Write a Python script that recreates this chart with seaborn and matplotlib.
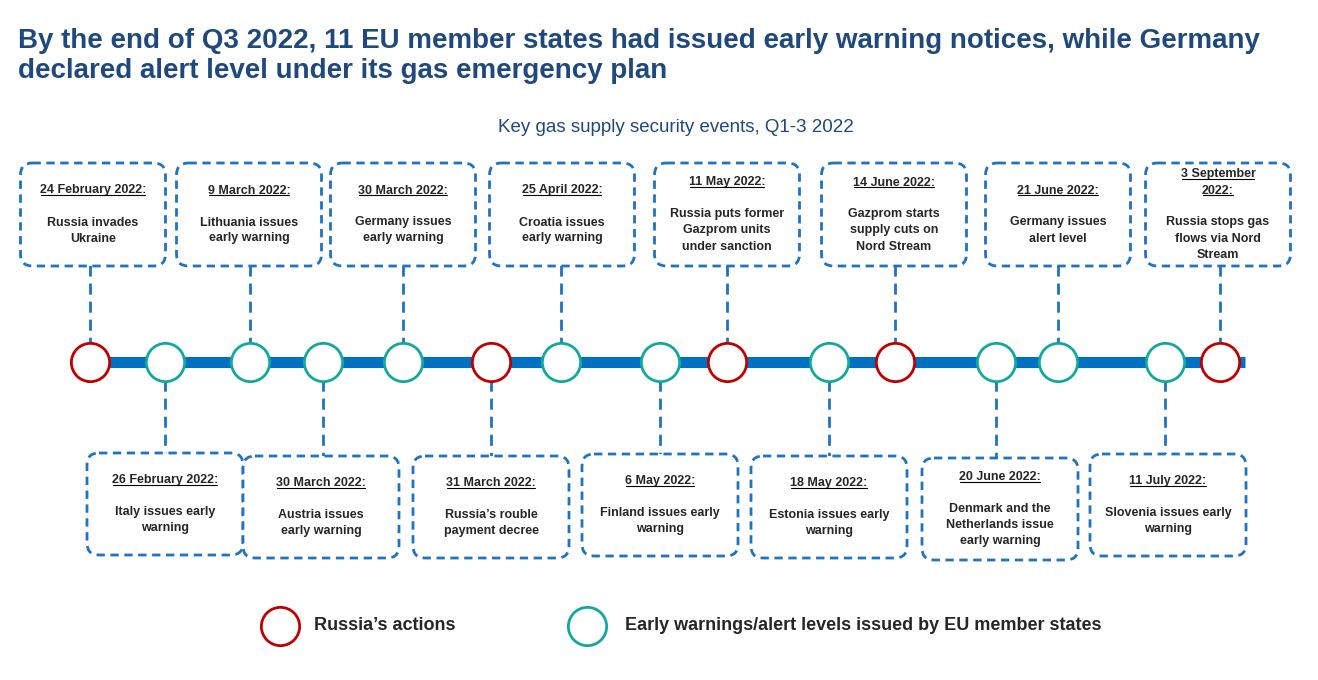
import matplotlib
matplotlib.use("Agg")
import matplotlib.pyplot as plt
import seaborn as sns
from matplotlib.patches import FancyBboxPatch

sns.set_theme(style="white")
plt.rcParams['font.family'] = ['Liberation Sans', 'DejaVu Sans']

# ---- data ----
top_dates = ["24 February 2022:", "9 March 2022:", "30 March 2022:", "25 April 2022:",
             "11 May 2022:", "14 June 2022:", "21 June 2022:", "3 September\n2022:"]
top_texts = ["Russia invades\nUkraine", "Lithuania issues\nearly warning", "Germany issues\nearly warning",
             "Croatia issues\nearly warning", "Russia puts former\nGazprom units\nunder sanction",
             "Gazprom starts\nsupply cuts on\nNord Stream", "Germany issues\nalert level",
             "Russia stops gas\nflows via Nord\nStream"]
top_kind = ["russia", "eu", "eu", "eu", "russia", "russia", "eu", "russia"]
bot_dates = ["26 February 2022:", "30 March 2022:", "31 March 2022:", "6 May 2022:",
             "18 May 2022:", "20 June 2022:", "11 July 2022:"]
bot_texts = ["Italy issues early\nwarning", "Austria issues\nearly warning", "Russia\u2019s rouble\npayment decree",
             "Finland issues early\nwarning", "Estonia issues early\nwarning",
             "Denmark and the\nNetherlands issue\nearly warning", "Slovenia issues early\nwarning"]
bot_kind = ["eu", "eu", "russia", "eu", "eu", "eu", "eu"]

# ---- layout ----
top_cx = [93, 249, 403, 562, 727, 894, 1058, 1218]
top_circle_x = [90, 250, 403, 561, 727, 895, 1058, 1220]
bot_cx = [165, 321, 491, 660, 829, 1000, 1168]
bot_circle_x = [165, 323, 491, 660, 829, 996, 1165]
bot_box_top = [453, 456, 456, 454, 456, 458, 454]
col = {"russia": "#C00000", "eu": "#13A89E"}
box_col = "#1F73C1"
line_y = 362
LH = 16

fig = plt.figure(figsize=(13.18, 6.8), dpi=100)
ax = fig.add_axes([0, 0, 1, 1])
ax.set_xlim(0, 1318); ax.set_ylim(680, 0); ax.axis("off")

fig.text(18/1318, 1-28/680, "By the end of Q3 2022, 11 EU member states had issued early warning notices, while Germany\ndeclared alert level under its gas emergency plan",
         color="#1F497D", fontsize=20, fontweight="bold", va="top", ha="left", linespacing=1.2)
ax.text(676, 128, "Key gas supply security events, Q1-3 2022", color="#1F497D", fontsize=13.5, ha="center", va="center")

ax.plot([90, 1245], [line_y, line_y], color="#0070C0", lw=8, solid_capstyle="butt", zorder=1)

underlines = []
def box(cx, y0, w, h, date, text):
    ax.add_patch(FancyBboxPatch((cx - w/2 + 12, y0 + 12), w - 24, h - 24,
                 boxstyle="round,pad=12,rounding_size=12", fc="white", ec=box_col, lw=2,
                 ls=(0, (3, 2)), zorder=3))
    dl = date.split("\n"); tl = text.split("\n")
    gap = 16
    total = (len(dl) + len(tl)) * LH + gap
    y = y0 + h/2 - total/2 + LH/2
    for s in dl:
        underlines.append(ax.text(cx, y, s, fontsize=9, fontweight="bold", ha="center", va="center", zorder=4))
        y += LH
    y += gap
    for s in tl:
        ax.text(cx, y, s, fontsize=9, fontweight="bold", ha="center", va="center", zorder=4)
        y += LH

for cx, x, d, t in zip(top_cx, top_circle_x, top_dates, top_texts):
    ax.plot([x, x], [265, line_y], color=box_col, lw=2, ls=(0, (4, 2.5)), zorder=2)
    box(cx, 163, 145, 103, d, t)
for cx, x, d, t, y0 in zip(bot_cx, bot_circle_x, bot_dates, bot_texts, bot_box_top):
    ax.plot([x, x], [line_y, y0], color=box_col, lw=2, ls=(0, (4, 2.5)), zorder=2)
    box(cx, y0, 156, 102, d, t)

circles = sorted([(x, k) for x, k in zip(top_circle_x, top_kind)] +
                 [(x, k) for x, k in zip(bot_circle_x, bot_kind)])
for x, k in circles:
    ax.scatter([x], [line_y], s=760, facecolor="white", edgecolor=col[k], linewidth=2, zorder=5)

fig.canvas.draw()
r = fig.canvas.get_renderer()
inv = ax.transData.inverted()
for t in underlines:
    bb = t.get_window_extent(r)
    (x0, yb), (x1, _) = inv.transform([[bb.x0, bb.y0], [bb.x1, bb.y1]])
    ax.plot([x0 + 1, x1 - 1], [yb - 1.5, yb - 1.5], color="black", lw=0.8, zorder=4)

# legend
ax.scatter([280], [626], s=760, facecolor="white", edgecolor=col["russia"], linewidth=2)
ax.text(314, 625, "Russia\u2019s actions", fontsize=13, fontweight="bold", va="center")
ax.scatter([587], [626], s=760, facecolor="white", edgecolor=col["eu"], linewidth=2)
ax.text(625, 626, "Early warnings/alert levels issued by EU member states", fontsize=13, fontweight="bold", va="center")

fig.savefig("out.png", dpi=100, facecolor="white")
